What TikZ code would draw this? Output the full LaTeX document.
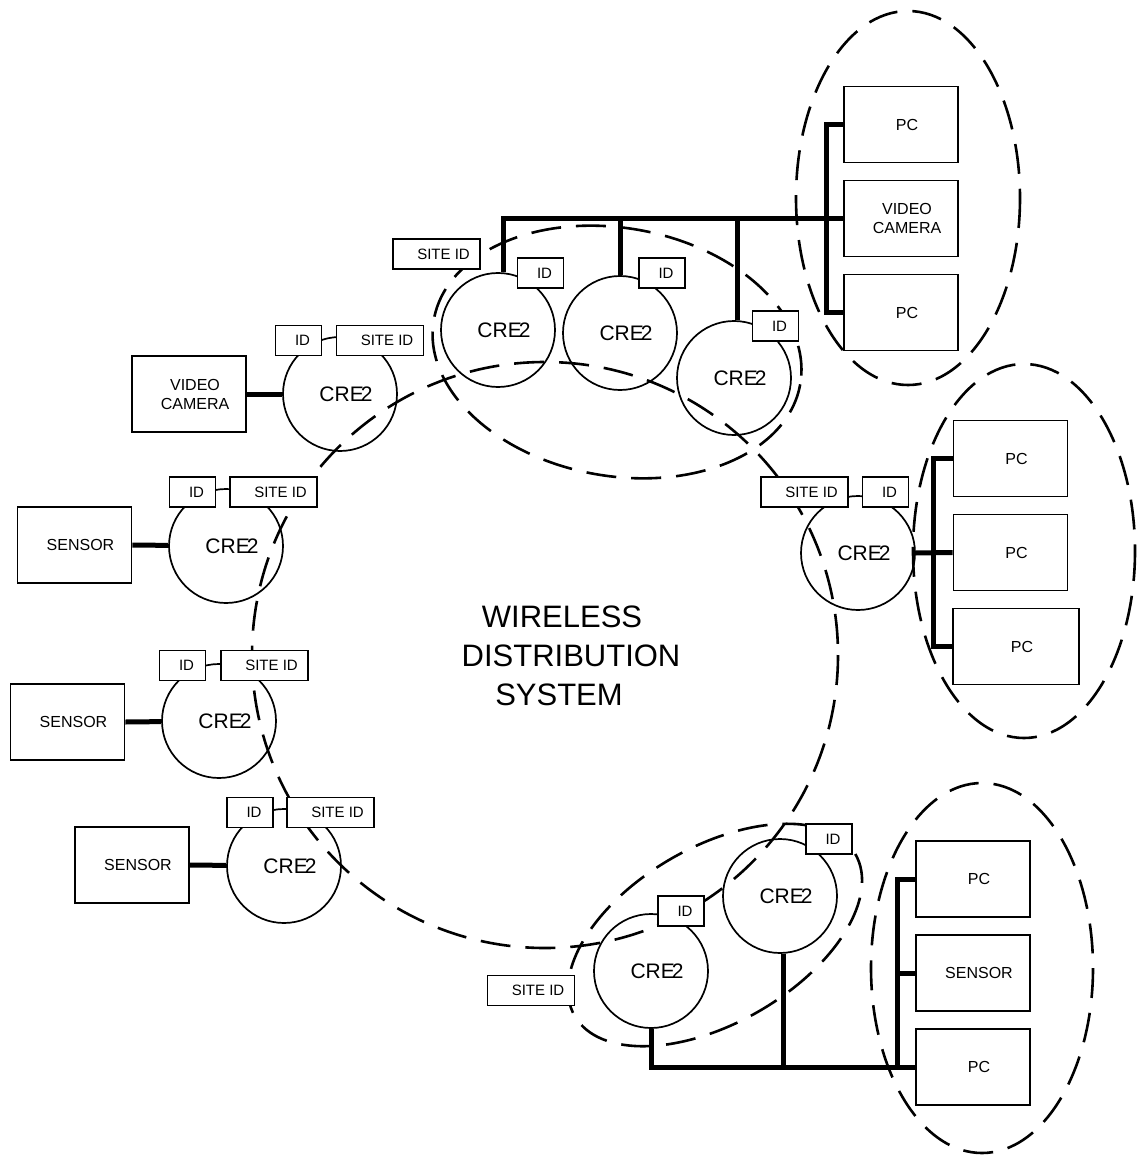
\documentclass[tikz,border=0pt]{standalone}
\usepackage{fontspec}
\setmainfont{Liberation Sans}
\newcommand\tgfont{\fontsize{15}{18}\selectfont}
\newcommand\dvfont{\fontsize{16}{19}\selectfont}
\newcommand\crfont{\fontsize{21}{24}\selectfont}
\newcommand\wdfont{\fontsize{31}{39}\selectfont}
\begin{document}
\begin{tikzpicture}[x=1pt, y=-1pt,
  dsh/.style={draw, line width=2.6pt, dash pattern=on 30pt off 15pt},
  cre/.style={circle, draw, line width=1.7pt, minimum size=114pt, inner sep=0pt,
    label={[font=\crfont, xshift=6pt]center:CRE\kern-3pt 2}},
  tag/.style={rectangle, draw, fill=white, line width=1.7pt, minimum height=30pt, inner sep=0pt},
  idbox/.style={tag, minimum width=46pt, label={[font=\tgfont, xshift=4pt]center:ID}},
  sitebox/.style={tag, minimum width=87pt, label={[font=\tgfont, xshift=7pt]center:SITE ID}},
  dev/.style={rectangle, draw, fill=white, line width=1.7pt, minimum width=114pt,
    minimum height=76pt, inner sep=0pt},
  devtext/.style={label={[font=\dvfont, align=center, xshift=6pt]center:{#1}}},
  bus/.style={line width=5pt}]
\useasboundingbox (0,0) rectangle (1136,1155);

% dashed groupings
\draw[dsh] (545,655) circle [radius=293];
\draw[dsh, rotate around={-10:(617,352)}] (617,352) ellipse [x radius=186, y radius=124];
\draw[dsh, rotate around={30:(715,935)}] (715,935) ellipse [x radius=162, y radius=88];
\draw[dsh] (908,198) ellipse [x radius=112, y radius=187];
\draw[dsh] (1024,551) ellipse [x radius=111, y radius=187];
\draw[dsh] (982,968) ellipse [x radius=111, y radius=185];

% CRE2 units
\node[cre] (c1) at (498,330) {};
\node[cre] (c2) at (620,333) {};
\node[cre] (c3) at (734,378) {};
\node[cre] (cv) at (340,394) {};
\node[cre] (cs1) at (226,546) {};
\node[cre] (cs2) at (219,721) {};
\node[cre] (cs3) at (284,866) {};
\node[cre] (cr) at (858,553) {};
\node[cre] (cb1) at (651,971) {};
\node[cre] (cb2) at (780,896) {};

% attached devices
\node[dev, devtext=PC] (tr1) at (901,124.5) {};
\node[dev, devtext={VIDEO\\CAMERA}] (tr2) at (901,218.5) {};
\node[dev, devtext=PC] (tr3) at (901,312.5) {};
\node[dev, devtext=PC] (rm1) at (1010.5,458.5) {};
\node[dev, devtext=PC] (rm2) at (1010.5,552.5) {};
\node[dev, devtext=PC, minimum width=126pt] (rm3) at (1016,646.5) {};
\node[dev, devtext=PC] (br1) at (973,879) {};
\node[dev, devtext=SENSOR] (br2) at (973,973) {};
\node[dev, devtext=PC] (br3) at (973,1067) {};
\node[dev, devtext={VIDEO\\CAMERA}] (lv) at (189,394) {};
\node[dev, devtext=SENSOR] (ls1) at (74.5,545) {};
\node[dev, devtext=SENSOR] (ls2) at (67.5,722) {};
\node[dev, devtext=SENSOR] (ls3) at (132,865) {};

% wired buses
\coordinate (tbus) at (826,218.5);
\coordinate (rbus) at (933,552.5);
\coordinate (bbus) at (897,973);
\draw[bus] (c1.85) |- (tr2.west);
\draw[bus] (c2.north) -- (c2.north |- tr2.west);
\draw[bus] (c3.87) -- (c3.87 |- tr2.west);
\draw[bus] (tr1.west) -- (tr1.west -| tbus) -- (tr3.west -| tbus) -- (tr3.west);
\draw[bus] (cr.east) -- (rm2.west);
\draw[bus] (rm1.west) -- (rm1.west -| rbus) -- (rm3.west -| rbus) -- (rm3.west);
\draw[bus] (cb1.south) |- (br3.west);
\draw[bus] (cb2.-87) -- (cb2.-87 |- br3.west);
\draw[bus] (br1.west) -- (br1.west -| bbus) -- (br3.west -| bbus);
\draw[bus] (bbus) -- (br2.west);
\draw[bus] (lv.east) -- (cv);
\draw[bus] (ls1.east) -- (cs1);
\draw[bus] (ls2.east) -- (cs2);
\draw[bus] (ls3.east) -- (cs3);

% identity tags
\node[idbox] (id1) at (540.5,273) {};
\node[idbox] (id2) at (662,273) {};
\node[idbox] (id3) at (775.5,326) {};
\node[idbox] (idv) at (298.5,340.5) {};
\node[idbox] (ids1) at (192.5,492) {};
\node[idbox] (ids2) at (182.5,665.5) {};
\node[idbox] (ids3) at (250,812.5) {};
\node[idbox] (idr) at (885.5,492) {};
\node[idbox] (idb1) at (681,911) {};
\node[idbox] (idb2) at (829,839) {};

\node[sitebox] (st) at (436.5,254) {};
\node[sitebox] (sv) at (380,340.5) {};
\node[sitebox] (ss1) at (273.5,492) {};
\node[sitebox] (ss2) at (264.5,665.5) {};
\node[sitebox] (ss3) at (330.5,812.5) {};
\node[sitebox] (sr) at (804.5,492) {};
\node[sitebox] (sb) at (531,990.5) {};

% network label
\node[font=\wdfont, align=center] (wds) at (571,656)
  {WIRELESS\hspace*{18pt}\\DISTRIBUTION\\SYSTEM\hspace*{24pt}};
\end{tikzpicture}
\end{document}
